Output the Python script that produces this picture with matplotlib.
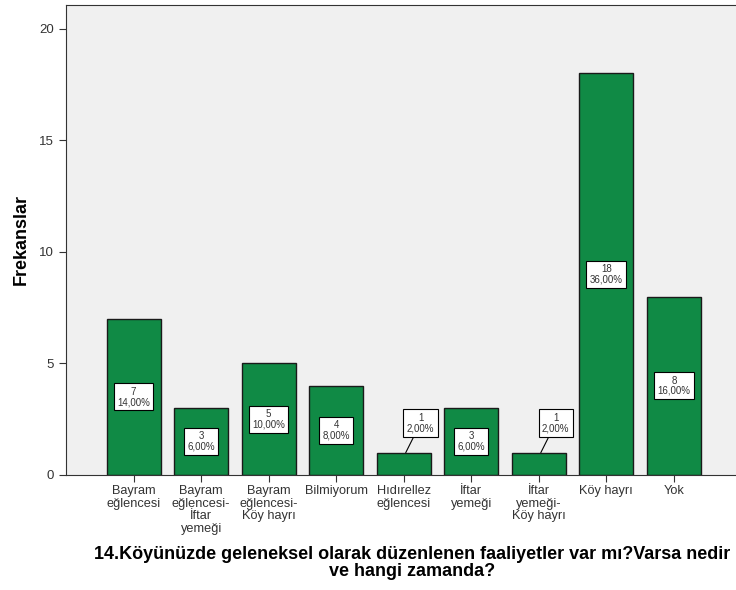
import matplotlib.pyplot as plt

plt.rcParams['font.family'] = ['Liberation Sans', 'DejaVu Sans']

categories = ['Bayram\neğlencesi', 'Bayram\neğlencesi-\nİftar\nyemeği', 'Bayram\neğlencesi-\nKöy hayrı',
              'Bilmiyorum', 'Hıdırellez\neğlencesi', 'İftar\nyemeği', 'İftar\nyemeği-\nKöy hayrı',
              'Köy hayrı', 'Yok']
counts = [7, 3, 5, 4, 1, 3, 1, 18, 8]
percents = ['14,00%', '6,00%', '10,00%', '8,00%', '2,00%', '6,00%', '2,00%', '36,00%', '16,00%']

fig = plt.figure(figsize=(7.36, 5.90), dpi=100)
ax = fig.add_axes([0.0897, 0.195, 0.9103, 0.7965])
ax.set_facecolor('#f0f0f0')

x = list(range(len(categories)))
ax.bar(x, counts, width=0.8, color='#108a45', edgecolor='#1a1a1a', linewidth=1)

box = dict(boxstyle='square,pad=0.35', facecolor='white', edgecolor='black', linewidth=0.8)
for xi, c, p in zip(x, counts, percents):
    txt = f'{c}\n{p}'
    if c >= 2:
        ax.text(xi, c / 2, txt, ha='center', va='center', fontsize=7,
                linespacing=1.05, bbox=box, color='#333333')
    else:
        ax.annotate(txt, xy=(xi + 0.03, c), xytext=(xi + 0.25, c + 1.33),
                    ha='center', va='center', fontsize=7, linespacing=1.05,
                    bbox=box, color='#333333',
                    arrowprops=dict(arrowstyle='-', color='black', linewidth=0.8,
                                    shrinkA=0, shrinkB=0))

ax.set_xlim(-1, 8.92)
ax.set_ylim(0, 21.07)
ax.set_yticks([0, 5, 10, 15, 20])
ax.set_xticks(x)
ax.set_xticklabels(categories, fontsize=9.2, linespacing=1.1)
ax.tick_params(axis='y', labelsize=9.5, length=5, color='#333333', labelcolor='#333333')
ax.tick_params(axis='x', length=5, color='#333333', labelcolor='#333333', pad=2)
ax.spines['right'].set_visible(False)
for s in ['left', 'top', 'bottom']:
    ax.spines[s].set_color('#333333')

ax.set_ylabel('Frekanslar', fontsize=13, fontweight='bold', labelpad=7)
ax.set_xlabel('14.Köyünüzde geleneksel olarak düzenlenen faaliyetler var mı?Varsa nedir\nve hangi zamanda?',
              fontsize=13, fontweight='bold', linespacing=1.0)
ax.xaxis.set_label_coords(0.516, -0.152)

fig.savefig('out.png', dpi=100)
